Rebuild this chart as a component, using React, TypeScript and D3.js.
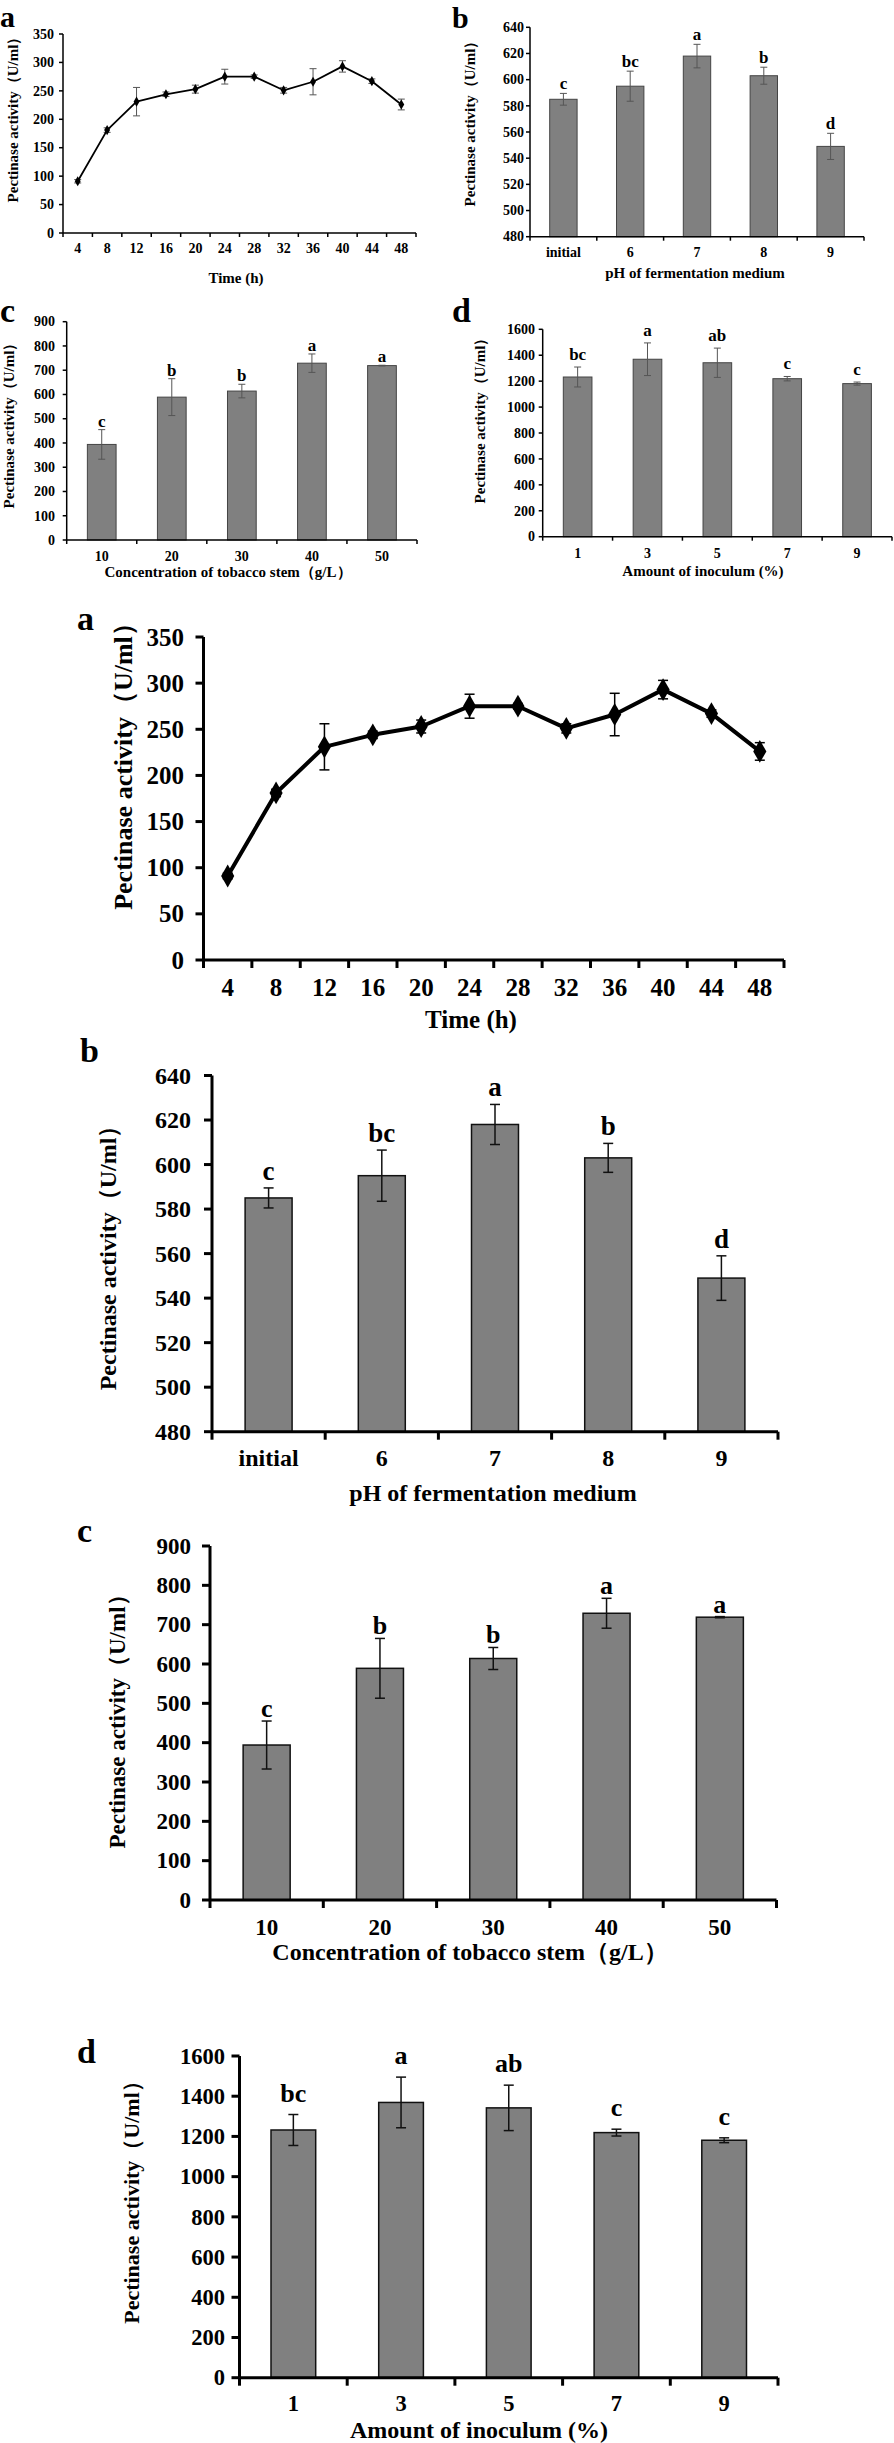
import React from "react";
import * as d3 from "d3";

// ---------- data ----------
const timeHours = ["4", "8", "12", "16", "20", "24", "28", "32", "36", "40", "44", "48"];
const timeActivity = [91, 181, 231, 244, 253, 275, 275, 251, 266, 293, 267, 226];
const timeErr = [3, 4, 25, 4, 7, 13, 3, 5, 23, 10, 4, 9.5];
const timeTicks = [0, 50, 100, 150, 200, 250, 300, 350];

const phCategories = ["initial", "6", "7", "8", "9"];
const phActivity = [585, 595, 618, 603, 549];
const phErr = [4.5, 11.5, 9, 6.5, 10];
const phLetters = ["c", "bc", "a", "b", "d"];
const phTicks = [480, 500, 520, 540, 560, 580, 600, 620, 640];

const stemCategories = ["10", "20", "30", "40", "50"];
const stemActivity = [394, 589, 614, 729, 719];
const stemErr = [61, 76, 28, 38, 1.5];
const stemLetters = ["c", "b", "b", "a", "a"];
const stemTicks = [0, 100, 200, 300, 400, 500, 600, 700, 800, 900];

const inocCategories = ["1", "3", "5", "7", "9"];
const inocActivity = [1232, 1369, 1342, 1219, 1181];
const inocErr = [77, 126, 113, 17, 12];
const inocLetters = ["bc", "a", "ab", "c", "c"];
const inocTicks = [0, 200, 400, 600, 800, 1000, 1200, 1400, 1600];

const yTitle = "Pectinase activity（U/ml）";
const FONT = "'Liberation Serif', 'Times New Roman', serif";

type PanelProps = {
  kind: "line" | "bar";
  cats: string[];
  values: number[];
  errs: number[];
  letters?: string[];
  ticks: number[];
  letter: string;
  xTitle: string;
  g: any;
};

function Panel({ kind, cats, values, errs, letters, ticks, letter, xTitle, g }: PanelProps) {
  const x = d3.scaleBand<string>().domain(cats).range([g.left, g.right]).padding(0);
  const y = d3.scaleLinear().domain([ticks[0], ticks[ticks.length - 1]]).range([g.bottom, g.top]);
  const bw = x.bandwidth();
  const cx = (c: string) => (x(c) as number) + bw / 2;
  const boundaries = d3.range(cats.length + 1).map((i) => g.left + i * bw);
  const line = d3
    .line<number>()
    .x((_, i) => cx(cats[i]))
    .y((v) => y(v));
  const diamond = d3.symbol(d3.symbolDiamond, g.markerSize)();
  const yTitleCY = g.yTitleCY ?? (g.top + g.bottom) / 2;
  return (
    <g fontFamily={FONT} fontWeight="bold" fill="#000">
      <text x={g.letterX} y={g.letterY} fontSize={g.letterFont}>
        {letter}
      </text>
      {kind === "bar" &&
        cats.map((c, i) => {
          const w = bw * g.barFrac;
          return (
            <rect
              key={"b" + i}
              x={cx(c) - w / 2}
              y={y(values[i])}
              width={w}
              height={y(ticks[0]) - y(values[i])}
              fill="#808080"
              stroke={g.barStroke}
              strokeWidth={g.barStrokeW}
            />
          );
        })}
      {cats.map((c, i) => {
        const x0 = cx(c);
        const t = y(values[i] + errs[i]);
        const b = y(values[i] - errs[i]);
        return (
          <g key={"e" + i} stroke={g.errColor} strokeWidth={g.errW}>
            <line x1={x0} x2={x0} y1={t} y2={b} />
            <line x1={x0 - g.cap} x2={x0 + g.cap} y1={t} y2={t} />
            <line x1={x0 - g.cap} x2={x0 + g.cap} y1={b} y2={b} />
          </g>
        );
      })}
      {kind === "line" && (
        <g>
          <path d={line(values) as string} fill="none" stroke="#000" strokeWidth={g.lineW} strokeLinejoin="round" />
          {cats.map((c, i) => (
            <path key={"m" + i} d={diamond as string} transform={`translate(${cx(c)},${y(values[i])})`} fill="#000" />
          ))}
        </g>
      )}
      {letters &&
        cats.map((c, i) => (
          <text
            key={"l" + i}
            x={cx(c)}
            y={y(values[i] + errs[i]) - g.sigGap}
            fontSize={g.sigFont}
            textAnchor="middle"
          >
            {letters[i]}
          </text>
        ))}
      <g stroke="#000" strokeWidth={g.axisW}>
        <line x1={g.left} x2={g.left} y1={g.top} y2={g.bottom} />
        <line x1={g.left} x2={g.right} y1={g.bottom} y2={g.bottom} />
        {ticks.map((t) => (
          <line key={"yt" + t} x1={g.left - g.tickLen} x2={g.left} y1={y(t)} y2={y(t)} />
        ))}
        {boundaries.map((bx, i) => (
          <line key={"xt" + i} x1={bx} x2={bx} y1={g.bottom} y2={g.bottom + g.tickLen} />
        ))}
      </g>
      {ticks.map((t) => (
        <text key={"yl" + t} x={g.yTickRight} y={y(t) + g.tickFont * 0.34} fontSize={g.tickFont} textAnchor="end">
          {t}
        </text>
      ))}
      {cats.map((c) => (
        <text key={"xl" + c} x={cx(c)} y={g.xTickY} fontSize={g.tickFont} textAnchor="middle">
          {c}
        </text>
      ))}
      <text x={g.xTitleX ?? (g.left + g.right) / 2} y={g.xTitleY} fontSize={g.titleFont} textAnchor="middle">
        {xTitle}
      </text>
      <text
        transform={`translate(${g.yTitleX},${yTitleCY}) rotate(-90)`}
        fontSize={g.yTitleFont}
        textAnchor="middle"
        dominantBaseline="central"
      >
        {yTitle}
      </text>
    </g>
  );
}

const small = {
  letterFont: 34,
  tickFont: 14,
  titleFont: 15,
  yTitleFont: 15,
  sigFont: 17,
  axisW: 1.5,
  tickLen: 4,
  barFrac: 0.41,
  barStroke: "#444",
  barStrokeW: 1,
  errColor: "#555",
  errW: 1,
  cap: 3.5,
  lineW: 1.8,
  markerSize: 30,
};

const big = {
  letterFont: 34,
  tickFont: 25,
  titleFont: 25,
  yTitleFont: 26,
  sigFont: 27,
  axisW: 3,
  tickLen: 8,
  barFrac: 0.415,
  barStroke: "#111",
  barStrokeW: 1.5,
  errColor: "#111",
  errW: 1.5,
  cap: 5,
  lineW: 4,
  markerSize: 150,
};

export default function App() {
  return (
    <svg
      width={894}
      height={2443}
      viewBox="0 0 894 2443"
      style={{ position: "absolute", left: 0, top: 0, background: "#fff" }}
    >
      <rect width={894} height={2443} fill="#fff" />
      {/* ---- top grid ---- */}
      <Panel
        kind="line"
        cats={timeHours}
        values={timeActivity}
        errs={timeErr}
        ticks={timeTicks}
        letter="a"
        xTitle="Time (h)"
        g={{ ...small, letterFont: 30, left: 63, right: 416, top: 34, bottom: 233, letterX: 0, letterY: 27, yTickRight: 54, xTickY: 253, xTitleY: 283, xTitleX: 236, yTitleX: 13, yTitleCY: 116 }}
      />
      <Panel
        kind="bar"
        cats={phCategories}
        values={phActivity}
        errs={phErr}
        letters={phLetters}
        ticks={phTicks}
        letter="b"
        xTitle="pH of fermentation medium"
        g={{ ...small, letterFont: 30, sigGap: 4, left: 530, right: 864, top: 27.3, bottom: 236.7, letterX: 452, letterY: 27.5, yTickRight: 524, xTickY: 256.5, xTitleY: 278, xTitleX: 695, yTitleX: 470, yTitleCY: 120 }}
      />
      <Panel
        kind="bar"
        cats={stemCategories}
        values={stemActivity}
        errs={stemErr}
        letters={stemLetters}
        ticks={stemTicks}
        letter="c"
        xTitle="Concentration of tobacco stem（g/L）"
        g={{ ...small, sigGap: 3, left: 66.7, right: 417, top: 321.7, bottom: 540, letterX: 0, letterY: 322, yTickRight: 55, xTickY: 561, xTitleY: 577, xTitleX: 228, yTitleX: 9, yTitleCY: 422 }}
      />
      <Panel
        kind="bar"
        cats={inocCategories}
        values={inocActivity}
        errs={inocErr}
        letters={inocLetters}
        ticks={inocTicks}
        letter="d"
        xTitle="Amount of inoculum (%)"
        g={{ ...small, sigGap: 7, left: 542.7, right: 892, top: 329.3, bottom: 536.7, letterX: 452, letterY: 322, yTickRight: 535, xTickY: 558, xTitleY: 576, xTitleX: 703, yTitleX: 480, yTitleCY: 417 }}
      />
      {/* ---- big panels ---- */}
      <Panel
        kind="line"
        cats={timeHours}
        values={timeActivity}
        errs={timeErr}
        ticks={timeTicks}
        letter="a"
        xTitle="Time (h)"
        g={{ ...big, errColor: "#000", cap: 5, left: 203.5, right: 784, top: 637, bottom: 960, letterX: 77, letterY: 630, yTickRight: 184, xTickY: 996, xTitleY: 1028, xTitleX: 471, yTitleX: 123, yTitleCY: 760 }}
      />
      <Panel
        kind="bar"
        cats={phCategories}
        values={phActivity}
        errs={phErr}
        letters={phLetters}
        ticks={phTicks}
        letter="b"
        xTitle="pH of fermentation medium"
        g={{ ...big, tickFont: 24, titleFont: 24, yTitleFont: 24, sigGap: 8, left: 212, right: 778, top: 1075.5, bottom: 1431.7, letterX: 80, letterY: 1062, yTickRight: 191, xTickY: 1466, xTitleY: 1501, xTitleX: 493, yTitleX: 108, yTitleCY: 1252 }}
      />
      <Panel
        kind="bar"
        cats={stemCategories}
        values={stemActivity}
        errs={stemErr}
        letters={stemLetters}
        ticks={stemTicks}
        letter="c"
        xTitle="Concentration of tobacco stem（g/L）"
        g={{ ...big, tickFont: 23, titleFont: 24, yTitleFont: 23, sigFont: 26, sigGap: 4, left: 210, right: 776.5, top: 1546, bottom: 1900, letterX: 77, letterY: 1542, yTickRight: 191, xTickY: 1935, xTitleY: 1960, xTitleX: 470, yTitleX: 117, yTitleCY: 1716 }}
      />
      <Panel
        kind="bar"
        cats={inocCategories}
        values={inocActivity}
        errs={inocErr}
        letters={inocLetters}
        ticks={inocTicks}
        letter="d"
        xTitle="Amount of inoculum (%)"
        g={{ ...big, tickFont: 22.5, titleFont: 24, yTitleFont: 22, sigFont: 26, sigGap: 13, left: 239.5, right: 778, top: 2056, bottom: 2377.7, letterX: 77, letterY: 2063, yTickRight: 225, xTickY: 2411, xTitleY: 2438, xTitleX: 479, yTitleX: 131, yTitleCY: 2197 }}
      />
    </svg>
  );
}
